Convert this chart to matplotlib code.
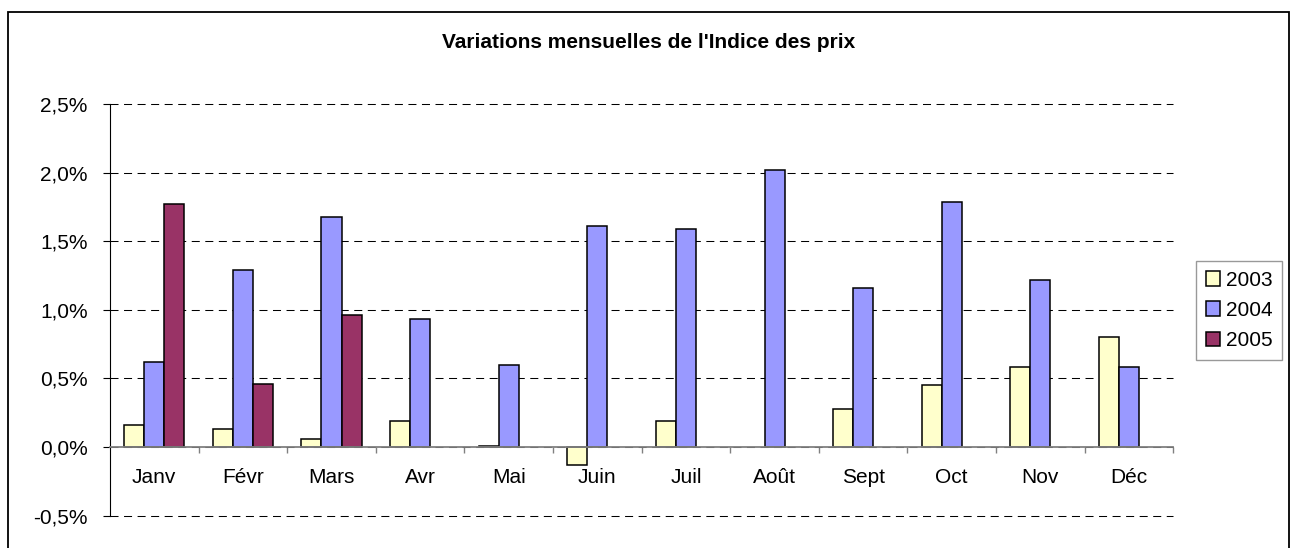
import matplotlib
matplotlib.use("Agg")
import matplotlib.pyplot as plt
from matplotlib.patches import Rectangle
from matplotlib.ticker import FixedLocator, FuncFormatter
import numpy as np

plt.rcParams['font.family'] = ['Liberation Sans', 'DejaVu Sans']

# Données : variations mensuelles de l'indice des prix (%)
mois = ['Janv', 'Févr', 'Mars', 'Avr', 'Mai', 'Juin', 'Juil', 'Août', 'Sept', 'Oct', 'Nov', 'Déc']
annees = ['2003', '2004', '2005']
v2003 = [0.16, 0.13, 0.06, 0.19, 0.01, -0.13, 0.19, np.nan, 0.28, 0.45, 0.58, 0.80]
v2004 = [0.62, 1.29, 1.68, 0.93, 0.60, 1.61, 1.59, 2.02, 1.16, 1.79, 1.22, 0.58]
v2005 = [1.77, 0.46, 0.96, np.nan, np.nan, np.nan, np.nan, np.nan, np.nan, np.nan, np.nan, np.nan]
couleurs = ['#FFFFCC', '#9999FF', '#993366']

fig = plt.figure(figsize=(12.97, 5.48), dpi=100)
ax = fig.add_axes([0.0848, 0.0593, 0.8198, 0.7504])

x = np.arange(len(mois))
w = 0.226
for i, (serie, c, lab) in enumerate(zip([v2003, v2004, v2005], couleurs, annees)):
    ax.bar(x + (i - 1) * w, serie, w, color=c, edgecolor='black', linewidth=1.1, label=lab, zorder=3)

ax.set_xlim(-0.5, 11.5)
ax.set_ylim(-0.5, 2.5)
ax.set_yticks(np.arange(-0.5, 2.51, 0.5))
ax.yaxis.set_major_formatter(FuncFormatter(lambda v, p: f"{v:.1f}%".replace('.', ',')))
ax.tick_params(axis='y', direction='out', length=5, width=0.8, pad=11, labelsize=15, color='black')

# axe des x sur la ligne zéro, graduations entre les mois
ax.spines['bottom'].set_position(('data', 0))
ax.spines['bottom'].set_color('#808080')
ax.spines['bottom'].set_linewidth(1.3)
ax.spines['bottom'].set_zorder(4)
ax.spines['top'].set_visible(False)
ax.spines['right'].set_visible(False)
ax.spines['left'].set_linewidth(0.8)
ax.xaxis.set_major_locator(FixedLocator(np.arange(0.5, 12, 1)))
ax.xaxis.set_major_formatter(FuncFormatter(lambda v, p: ''))
ax.xaxis.set_minor_locator(FixedLocator(x))
ax.set_xticklabels(mois, minor=True)
ax.tick_params(axis='x', which='major', direction='out', length=4.5, width=1, color='#808080')
ax.tick_params(axis='x', which='minor', length=0, pad=15, labelsize=15)

ax.set_axisbelow(True)
ax.yaxis.grid(True, color='black', linewidth=0.75, linestyle=(0, (7.7, 5.3)))
for gl in ax.get_ygridlines():
    gl.set_clip_on(False)

fig.text(0.5, 0.9119, "Variations mensuelles de l'Indice des prix", ha='center', va='baseline',
         fontsize=15, fontweight='bold')

leg = fig.legend(loc='center left', bbox_to_anchor=(0.9225, 0.4334), fontsize=15, frameon=True,
                 fancybox=False, edgecolor='#808080', handlelength=0.7, handleheight=0.7,
                 handletextpad=0.25, labelspacing=0.55, borderpad=0.45, borderaxespad=0)
leg.get_frame().set_linewidth(1)

# cadre autour du graphique
fig.add_artist(Rectangle((0.0058, -0.05), 0.9882, 0.9836 + 0.05 - 0.005, transform=fig.transFigure,
                         fill=False, edgecolor='black', linewidth=1.3))

fig.savefig('out.png', dpi=100)
